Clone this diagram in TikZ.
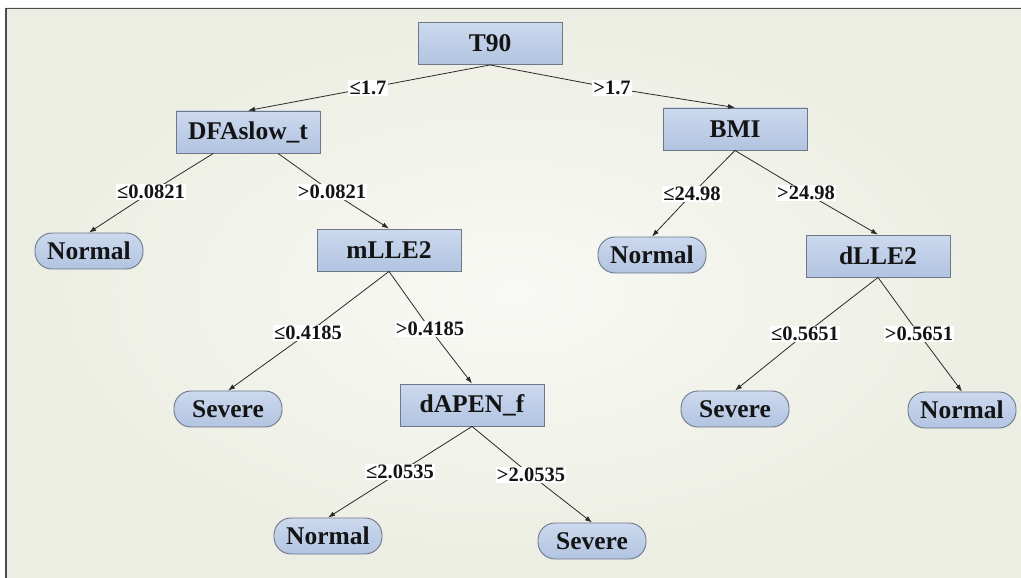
\documentclass[tikz,border=0pt]{standalone}
\usepackage{fontspec}
\setmainfont{Liberation Serif}
\usetikzlibrary{arrows.meta}
\definecolor{bgout}{HTML}{ECEEE3}
\definecolor{bgin}{HTML}{F8F9F4}
\definecolor{boxtop}{HTML}{CCD9EE}
\definecolor{boxbot}{HTML}{B2C4E1}
\definecolor{boxline}{HTML}{6E7886}
\definecolor{edgec}{HTML}{2A2A2A}
\tikzset{
  every node/.style={text=black!92},
  rectbox/.style={draw=boxline, line width=0.9pt, top color=boxtop, bottom color=boxbot,
    minimum width=144pt, minimum height=42pt, inner sep=0pt,
    font=\fontsize{25.5}{28}\selectfont\bfseries},
  termbox/.style={draw=boxline, line width=0.9pt, top color=boxtop, bottom color=boxbot,
    rounded corners=17pt, minimum width=108pt, minimum height=36pt, inner sep=0pt,
    font=\fontsize{25.5}{28}\selectfont\bfseries},
  lbl/.style={fill=white, inner sep=1.2pt, font=\fontsize{20.5}{23}\selectfont\bfseries},
  edge/.style={draw=edgec, line width=0.8pt, -{Latex[length=7pt,width=5pt]}}
}
\begin{document}
\begin{tikzpicture}[x=1pt,y=-1pt]
\useasboundingbox (0,0) rectangle (1021,578);
\fill[white] (0,0) rectangle (1021,578);
\begin{scope}
\clip (6,8) rectangle (1021,578);
\fill[bgout] (6,8) rectangle (1021,578);
\shade[inner color=bgin, outer color=bgout] (6,8) rectangle (1021,578);
\end{scope}
\draw[black!70, line width=1.5pt] (6,578) -- (6,8.5) -- (1021,8.5);

% nodes
\node[rectbox] (t90) at (490,43.5) {T90};
\node[rectbox] (dfa) at (248,132) {DFAslow\_t};
\node[rectbox] (bmi) at (735,129) {BMI};
\node[termbox] (nl) at (89,251) {Normal};
\node[rectbox] (mlle) at (389,250) {mLLE2};
\node[termbox] (nm) at (652,255) {Normal};
\node[rectbox] (dlle) at (878,256) {dLLE2};
\node[termbox] (sl) at (228,409) {Severe};
\node[rectbox] (dapen) at (472,405) {dAPEN\_f};
\node[termbox] (sm) at (735,409) {Severe};
\node[termbox] (nr) at (962,410) {Normal};
\node[termbox] (nb) at (328,536) {Normal};
\node[termbox] (sb) at (592,541) {Severe};

% label positions
\coordinate (c1) at (368,88);
\coordinate (c2) at (612,88);
\coordinate (c3) at (151,192);
\coordinate (c4) at (332,192);
\coordinate (c5) at (692,194);
\coordinate (c6) at (806,193);
\coordinate (c7) at (308,333);
\coordinate (c8) at (430,329);
\coordinate (c9) at (805,334);
\coordinate (c10) at (919,334);
\coordinate (c11) at (400,472);
\coordinate (c12) at (531,475);

% edges
\draw[edge] (t90.south) -- (c1) -- (dfa.north);
\draw[edge] (t90.south) -- (c2) -- (bmi.north);
\draw[edge] (dfa) -- (c3) -- (nl.north);
\draw[edge] (dfa) -- (c4) -- (mlle.north);
\draw[edge] (bmi.south) -- (c5) -- (nm.north);
\draw[edge] (bmi.south) -- (c6) -- (dlle.north);
\draw[edge] (mlle.south) -- (c7) -- (sl.north);
\draw[edge] (mlle.south) -- (c8) -- (dapen.north);
\draw[edge] (dlle.south) -- (c9) -- (sm.north);
\draw[edge] (dlle.south) -- (c10) -- (nr.north);
\draw[edge] (dapen.south) -- (c11) -- (nb.north);
\draw[edge] (dapen.south) -- (c12) -- (sb.north);

% labels
\node[lbl] (l1) at (c1) {≤1.7};
\node[lbl] (l2) at (c2) {>1.7};
\node[lbl] (l3) at (c3) {≤0.0821};
\node[lbl] (l4) at (c4) {>0.0821};
\node[lbl] (l5) at (c5) {≤24.98};
\node[lbl] (l6) at (c6) {>24.98};
\node[lbl] (l7) at (c7) {≤0.4185};
\node[lbl] (l8) at (c8) {>0.4185};
\node[lbl] (l9) at (c9) {≤0.5651};
\node[lbl] (l10) at (c10) {>0.5651};
\node[lbl] (l11) at (c11) {≤2.0535};
\node[lbl] (l12) at (c12) {>2.0535};
\end{tikzpicture}
\end{document}
